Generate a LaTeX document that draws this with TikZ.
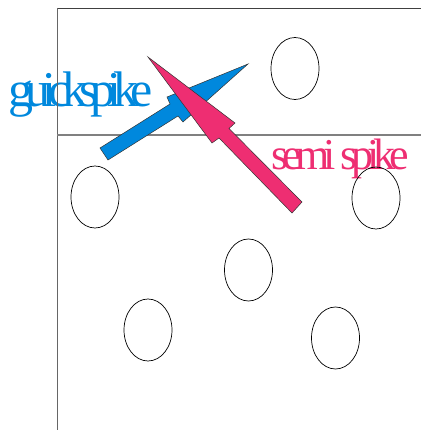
\documentclass[tikz,border=0pt]{standalone}
\usepackage{fontspec}
\usetikzlibrary{shapes.geometric}
\newfontfamily\guickfont[LetterSpace=-16]{Liberation Serif}
\newfontfamily\semifont[LetterSpace=-14]{Liberation Serif}
\definecolor{spikeblue}{RGB}{0,136,221}
\definecolor{spikepink}{RGB}{238,46,114}
\begin{document}
\begin{tikzpicture}[x=1pt,y=-1pt,
  ball/.style={draw=black,line width=0.7pt,ellipse,minimum width=48pt,minimum height=62pt,inner sep=0pt},
  spikearrow/.style={draw=black!80,line width=0.5pt,line join=miter},
  lbl/.style={inner sep=0pt,anchor=base west}]
\useasboundingbox (0,0) rectangle (421,430);
% labels
\node[lbl,text=spikeblue,font=\guickfont\fontsize{50}{50}\selectfont] (quick) at (8,107) {guickspike};
\node[lbl,text=spikepink,font=\semifont\fontsize{44}{44}\selectfont] (semi) at (271,170) {semi spike};
% court lines
\coordinate (tl) at (57,8);
\coordinate (tr) at (421,8);
\coordinate (bl) at (57,430);
\coordinate (ml) at (57,135);
\coordinate (mr) at (421,135);
\draw[black!75,line width=0.8pt] (tl) -- (tr);
\draw[black!60,line width=0.8pt] (tl) -- (bl);
\draw[black!50,line width=1.4pt] (ml) -- (mr);
% players
\node[ball] (p1) at (295,68.5) {};
\node[ball] (p2) at (95,197) {};
\node[ball] (p3) at (376,198) {};
\node[ball] (p4) at (248.5,270) {};
\node[ball] (p5) at (148,330) {};
\node[ball] (p6) at (335.5,338) {};
% arrows
\draw[spikearrow,fill=spikeblue] (100,148) -- (170,104) -- (167,97) -- (248,64) -- (183,122) -- (178,116) -- (108,160) -- cycle;
\draw[spikearrow,fill=spikepink] (148,57) -- (235,123) -- (229,128.5) -- (302,202) -- (292,213) -- (219,138) -- (212,143) -- cycle;
\end{tikzpicture}
\end{document}
